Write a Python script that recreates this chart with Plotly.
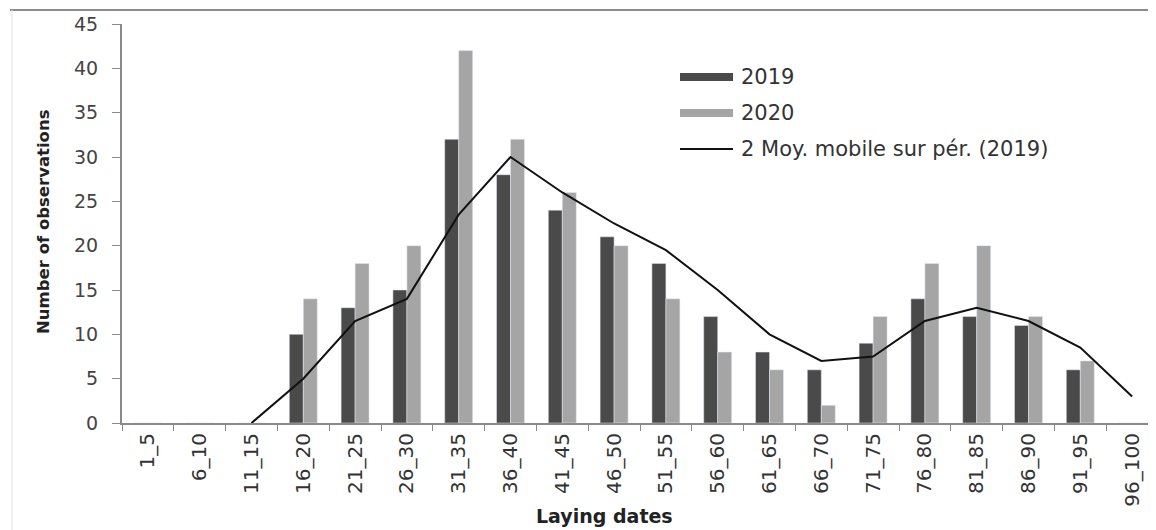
import plotly.graph_objects as go

# laying date classes
dates = ["1_5", "6_10", "11_15", "16_20", "21_25", "26_30", "31_35", "36_40",
         "41_45", "46_50", "51_55", "56_60", "61_65", "66_70", "71_75", "76_80",
         "81_85", "86_90", "91_95", "96_100"]

obs_2019 = [0, 0, 0, 10, 13, 15, 32, 28, 24, 21, 18, 12, 8, 6, 9, 14, 12, 11, 6, 0]
obs_2020 = [0, 0, 0, 14, 18, 20, 42, 32, 26, 20, 14, 8, 6, 2, 12, 18, 20, 12, 7, 0]

# 2-period moving average of 2019, as drawn (starts at 11_15)
ma_dates = dates[2:]
ma_2019 = [0, 5, 11.5, 14, 23.5, 30, 26, 22.5, 19.5, 15, 10, 7, 7.5, 11.5, 13, 11.5, 8.5, 3]

DARK = "#4a4a4a"
LIGHT = "#a5a5a5"
FONT = "'DejaVu Sans', sans-serif"

fig = go.Figure()
fig.add_trace(go.Bar(x=dates, y=obs_2019, name="2019", marker_color=DARK))
fig.add_trace(go.Bar(x=dates, y=obs_2020, name="2020", marker_color=LIGHT))
fig.add_trace(go.Scatter(x=ma_dates, y=ma_2019, mode="lines",
                         name="2 Moy. mobile sur pér. (2019)",
                         line=dict(color="#111111", width=2)))

# page body has an 8px margin, so the figure is offset by that much on screen
OFF = 8
L, T, W, H = 122 - OFF, 24 - OFF, 1036, 399

fig.update_layout(
    width=1156, height=530,
    margin=dict(l=L, r=1156 - L - W, t=T, b=530 - T - H),
    plot_bgcolor="white", paper_bgcolor="white",
    barmode="group", bargap=0.46, bargroupgap=0,
    showlegend=False,
    font=dict(family=FONT, color="#333333"),
)

fig.update_xaxes(
    type="category", categoryorder="array", categoryarray=dates,
    tickangle=-90, tickfont=dict(size=20, color="#333333"),
    showline=True, linecolor="#8a8a8a", linewidth=2,
    ticks="outside", tickson="boundaries", ticklen=6, tickcolor="#8a8a8a",
    showgrid=False, automargin=False,
)
fig.update_yaxes(
    range=[0, 45], dtick=5,
    tickfont=dict(size=19, color="#444444"),
    showline=True, linecolor="#8a8a8a", linewidth=2,
    ticks="outside", ticklen=8, tickcolor="#8a8a8a", ticklabelstandoff=10,
    showgrid=False, zeroline=False, automargin=False,
)

# screen pixel -> paper helpers
def px_x(p):
    return (p - OFF - L) / W

def px_y(p):
    return 1 - (p - OFF - T) / H

# axis titles
fig.add_annotation(xref="paper", yref="paper", x=px_x(604), y=px_y(516),
                   text="<b>Laying dates</b>", showarrow=False,
                   xanchor="center", yanchor="middle",
                   font=dict(size=19, color="#222222", family=FONT))
fig.add_annotation(xref="paper", yref="paper", x=px_x(43), y=px_y(222),
                   text="<b>Number of observations</b>", showarrow=False, textangle=-90,
                   xanchor="center", yanchor="middle",
                   font=dict(size=16.5, color="#222222", family=FONT))

# outer frame (top and left edges visible)
fig.add_shape(type="line", xref="paper", yref="paper",
              x0=px_x(10), x1=px_x(1170), y0=px_y(10), y1=px_y(10),
              line=dict(color="#8c8c8c", width=2))
fig.add_shape(type="line", xref="paper", yref="paper",
              x0=px_x(12), x1=px_x(12), y0=px_y(10), y1=px_y(540),
              line=dict(color="#e0e0e0", width=1))

# legend drawn as in the original (wide swatches)
legend_items = [("2019", DARK, "bar"), ("2020", LIGHT, "bar"),
                ("2 Moy. mobile sur pér. (2019)", "#111111", "line")]
for i, (label, col, kind) in enumerate(legend_items):
    yc = 77 + 36 * i
    if kind == "bar":
        fig.add_shape(type="rect", xref="paper", yref="paper",
                      x0=px_x(680), x1=px_x(733), y0=px_y(yc - 4), y1=px_y(yc + 4),
                      fillcolor=col, line=dict(width=0))
    else:
        fig.add_shape(type="line", xref="paper", yref="paper",
                      x0=px_x(680), x1=px_x(733), y0=px_y(yc), y1=px_y(yc),
                      line=dict(color=col, width=2))
    fig.add_annotation(xref="paper", yref="paper", x=px_x(739), y=px_y(yc),
                       text=label, showarrow=False, xanchor="left", yanchor="middle",
                       font=dict(size=21, color="#333333", family=FONT))

fig.write_html("out.html")
